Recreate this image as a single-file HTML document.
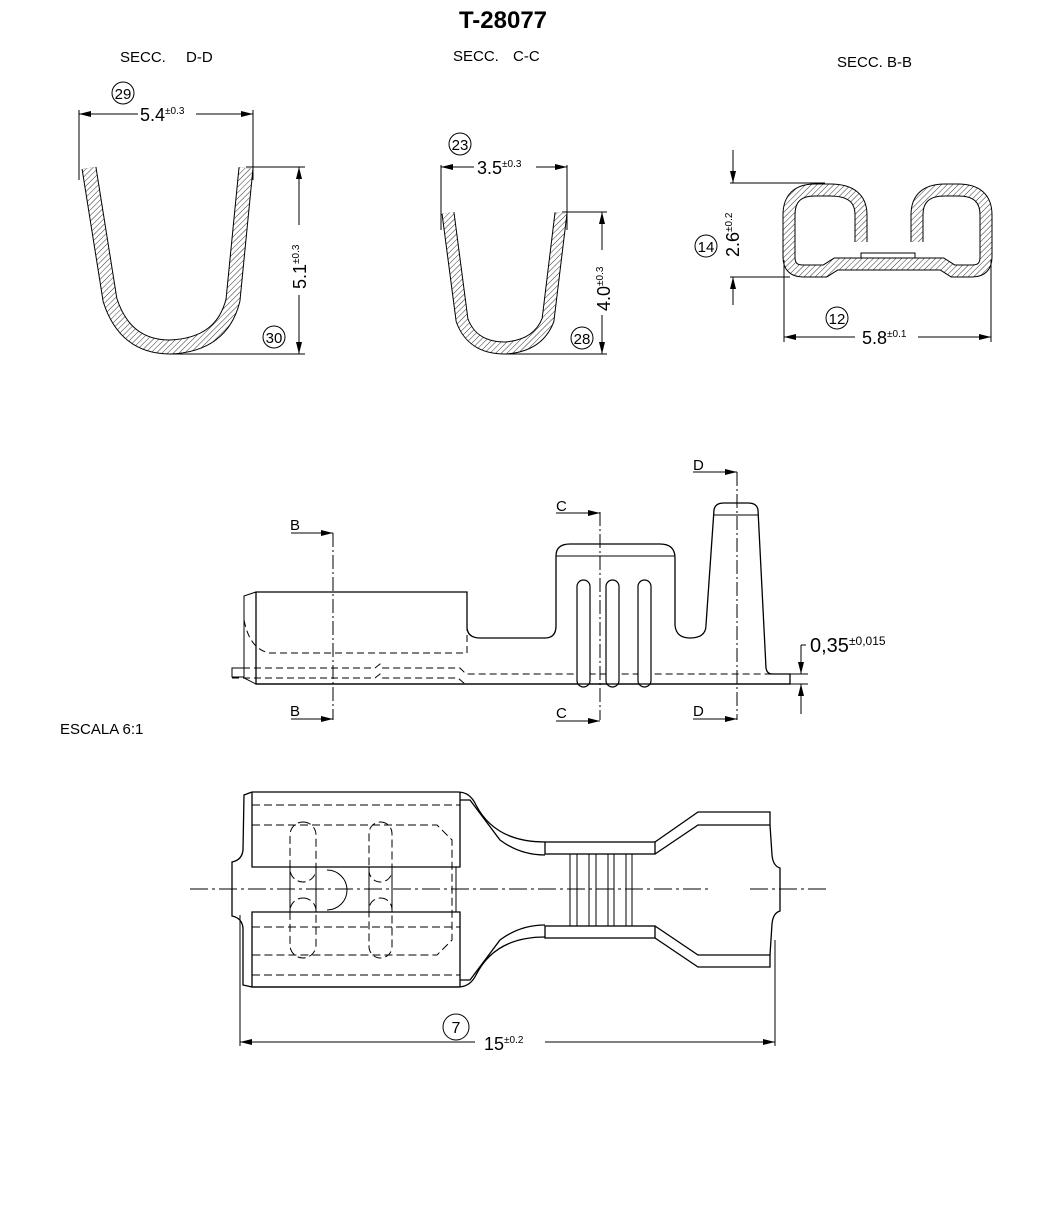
<!DOCTYPE html>
<html><head><meta charset="utf-8"><style>
html,body{margin:0;padding:0;background:#fff;}
svg{display:block;font-family:"Liberation Sans",sans-serif;}
</style></head><body>
<svg width="1053" height="1208" viewBox="0 0 1053 1208" xmlns="http://www.w3.org/2000/svg">
<defs>
<pattern id="h" width="4" height="4" patternUnits="userSpaceOnUse" patternTransform="rotate(45)">
<rect width="4" height="4" fill="#fff"/><line x1="0" y1="0" x2="0" y2="4" stroke="#333" stroke-width="1"/>
</pattern>
<marker id="a" markerWidth="12" markerHeight="6" refX="12" refY="3" orient="auto" markerUnits="userSpaceOnUse">
<path d="M0,0 L12,3 L0,6 Z" fill="#000"/></marker>
</defs>
<g fill="none" stroke="#000" stroke-width="1">
<text x="503" y="28" font-size="24" font-weight="bold" text-anchor="middle" fill="#000" stroke="none">T-28077</text>
<g fill="#000" stroke="none" font-size="15">
<text x="120" y="62">SECC.</text><text x="186" y="62">D-D</text>
<text x="453" y="61">SECC.</text><text x="513" y="61">C-C</text>
<text x="837" y="67">SECC. B-B</text>
<text x="60" y="734">ESCALA 6:1</text>
</g>

<!-- D-D -->
<path d="M89,168 L110,300 Q125,347 170,347 Q222,345 233,300 L246,168" stroke="#000" stroke-width="15"/>
<path d="M89,168 L110,300 Q125,347 170,347 Q222,345 233,300 L246,168" stroke="url(#h)" stroke-width="13"/>
<line x1="79" y1="110" x2="79" y2="180"/><line x1="253" y1="110" x2="253" y2="180"/>
<path d="M138,114 L79,114" marker-end="url(#a)"/><path d="M196,114 L253,114" marker-end="url(#a)"/>
<text x="140" y="121" font-size="18" fill="#000" stroke="none">5.4<tspan font-size="10" dy="-7">±0.3</tspan></text>
<circle cx="123" cy="93" r="11"/><text x="123" y="99" font-size="15" text-anchor="middle" fill="#000" stroke="none">29</text>
<line x1="246" y1="167" x2="305" y2="167"/><line x1="170" y1="354" x2="305" y2="354"/>
<path d="M299,225 L299,167" marker-end="url(#a)"/><path d="M299,295 L299,354" marker-end="url(#a)"/>
<text transform="translate(306,289) rotate(-90)" font-size="18" fill="#000" stroke="none">5.1<tspan font-size="10" dy="-7">±0.3</tspan></text>
<circle cx="274" cy="337" r="11"/><text x="274" y="343" font-size="15" text-anchor="middle" fill="#000" stroke="none">30</text>

<!-- C-C -->
<path d="M448,213 L462,320 Q472,348 505,348 Q538,346 548,320 L561,213" stroke="#000" stroke-width="13"/>
<path d="M448,213 L462,320 Q472,348 505,348 Q538,346 548,320 L561,213" stroke="url(#h)" stroke-width="11"/>
<line x1="441" y1="165" x2="441" y2="230"/><line x1="567" y1="165" x2="567" y2="230"/>
<path d="M474,167 L441,167" marker-end="url(#a)"/><path d="M536,167 L567,167" marker-end="url(#a)"/>
<text x="477" y="174" font-size="18" fill="#000" stroke="none">3.5<tspan font-size="10" dy="-7">±0.3</tspan></text>
<circle cx="460" cy="144" r="11"/><text x="460" y="150" font-size="15" text-anchor="middle" fill="#000" stroke="none">23</text>
<line x1="562" y1="212" x2="607" y2="212"/><line x1="505" y1="354" x2="607" y2="354"/>
<path d="M602,250 L602,212" marker-end="url(#a)"/><path d="M602,315 L602,354" marker-end="url(#a)"/>
<text transform="translate(610,311) rotate(-90)" font-size="18" fill="#000" stroke="none">4.0<tspan font-size="10" dy="-7">±0.3</tspan></text>
<circle cx="582" cy="338" r="11"/><text x="582" y="344" font-size="15" text-anchor="middle" fill="#000" stroke="none">28</text>

<!-- B-B -->
<path d="M861,242 L861,215 Q861,190 830,190 L815,190 Q789,190 789,215 L789,257 Q789,271 803,271 L825,271 L836,264 L942,264 L953,271 L972,271 Q986,271 986,257 L986,215 Q986,190 958,190 L945,190 Q917,190 917,215 L917,242" stroke="#000" stroke-width="13"/>
<path d="M861,242 L861,215 Q861,190 830,190 L815,190 Q789,190 789,215 L789,257 Q789,271 803,271 L825,271 L836,264 L942,264 L953,271 L972,271 Q986,271 986,257 L986,215 Q986,190 958,190 L945,190 Q917,190 917,215 L917,242" stroke="url(#h)" stroke-width="11"/>
<rect x="861" y="253" width="54" height="5" fill="#fff"/>
<line x1="730" y1="183" x2="825" y2="183"/><line x1="730" y1="277" x2="790" y2="277"/>
<path d="M733,150 L733,183" marker-end="url(#a)"/><path d="M733,305 L733,277" marker-end="url(#a)"/>
<text transform="translate(739,257) rotate(-90)" font-size="18" fill="#000" stroke="none">2.6<tspan font-size="10" dy="-7">±0.2</tspan></text>
<circle cx="706" cy="246" r="11"/><text x="706" y="252" font-size="15" text-anchor="middle" fill="#000" stroke="none">14</text>
<line x1="784" y1="260" x2="784" y2="342"/><line x1="991" y1="260" x2="991" y2="342"/>
<path d="M855,337 L784,337" marker-end="url(#a)"/><path d="M918,337 L991,337" marker-end="url(#a)"/>
<text x="862" y="344" font-size="18" fill="#000" stroke="none">5.8<tspan font-size="10" dy="-7">±0.1</tspan></text>
<circle cx="837" cy="318" r="11"/><text x="837" y="324" font-size="15" text-anchor="middle" fill="#000" stroke="none">12</text>

<!-- side view -->
<path d="M256,684 L256,592 L467,592 L467,628 Q468,638 480,638 L545,638 Q556,638 556,626 L556,556 Q556,544 570,544 L660,544 Q675,544 675,558 L675,625 Q676,638 690,638 Q706,638 706,625 L714,510 Q715,503 724,503 L748,503 Q757,503 758,510 L766,668 Q767,674 772,674 L790,674 L790,684 Z" stroke-width="1.3"/>
<path d="M256,592 L244,596 L244,678 L256,684"/>
<rect x="232" y="668" width="12" height="9"/>
<line x1="556" y1="556" x2="675" y2="556"/><line x1="714" y1="515" x2="758" y2="515"/>
<g stroke-dasharray="7,4">
<path d="M244,620 Q250,650 270,653 L467,653 L467,592"/>
<path d="M232,668 L375,668 L380,664 L382,668 L460,668 L466,674 L790,674"/>
<path d="M232,678 L375,678 L380,674 L382,678 L458,678 L465,684"/>
</g>
<g fill="#fff" stroke-width="1.2">
<rect x="577" y="580" width="13" height="107" rx="6.5"/><rect x="606" y="580" width="13" height="107" rx="6.5"/><rect x="638" y="580" width="13" height="107" rx="6.5"/>
</g>
<line x1="256" y1="684" x2="790" y2="684" stroke-width="1.3"/>
<g stroke-dasharray="14,3,2,3">
<line x1="333" y1="533" x2="333" y2="720"/><line x1="600" y1="512" x2="600" y2="720"/><line x1="737" y1="472" x2="737" y2="720"/>
</g>
<path d="M291,533 L333,533" marker-end="url(#a)"/><path d="M291,719 L333,719" marker-end="url(#a)"/>
<path d="M556,513 L600,513" marker-end="url(#a)"/><path d="M556,721 L600,721" marker-end="url(#a)"/>
<path d="M693,472 L737,472" marker-end="url(#a)"/><path d="M693,719 L737,719" marker-end="url(#a)"/>
<g fill="#000" stroke="none" font-size="15">
<text x="290" y="530">B</text><text x="290" y="716">B</text><text x="556" y="511">C</text><text x="556" y="718">C</text><text x="693" y="470">D</text><text x="693" y="716">D</text>
</g>
<line x1="790" y1="674" x2="808" y2="674"/><line x1="790" y1="684" x2="808" y2="684"/>
<path d="M801,645 L801,674" marker-end="url(#a)"/><path d="M801,714 L801,684" marker-end="url(#a)"/>
<path d="M801,645 L806,645"/>
<text x="810" y="652" font-size="20" fill="#000" stroke="none">0,35<tspan font-size="12" dy="-7">±0,015</tspan></text>

<!-- top view -->
<g stroke-width="1.3">
<path d="M252,792 L458,792 Q470,792 476,805 Q495,842 545,842"/>
<path d="M252,987 L458,987 Q470,987 476,975 Q495,937 545,937"/>
<path d="M252,792 L252,867 L460,867 L460,792"/>
<path d="M252,912 L252,987 L460,987 L460,912 Z"/>
<path d="M252,792 L244,795 L243,850 Q242,860 232,862 L232,916 Q242,918 243,928 L243,985 L252,987"/>
<path d="M460,800 L470,800 Q485,820 500,840 Q520,855 545,855"/>
<path d="M460,980 L470,980 Q485,960 500,940 Q520,925 545,925"/>
<rect x="545" y="842" width="110" height="12"/><rect x="545" y="926" width="110" height="12"/>
<path d="M655,842 L698,812 L770,812 L770,825 L698,825 L655,854"/>
<path d="M655,938 L698,967 L770,967 L770,955 L698,955 L655,926"/>
<path d="M770,825 L772,855 Q773,866 780,868 L780,911 Q773,913 772,924 L770,955"/>
</g>
<g>
<line x1="570" y1="854" x2="570" y2="926"/><line x1="577" y1="854" x2="577" y2="926"/><line x1="589" y1="854" x2="589" y2="926"/><line x1="596" y1="854" x2="596" y2="926"/><line x1="608" y1="854" x2="608" y2="926"/><line x1="614" y1="854" x2="614" y2="926"/><line x1="626" y1="854" x2="626" y2="926"/><line x1="632" y1="854" x2="632" y2="926"/>
<line x1="290" y1="867" x2="290" y2="912"/><line x1="316" y1="867" x2="316" y2="912"/><line x1="369" y1="867" x2="369" y2="912"/><line x1="392" y1="867" x2="392" y2="912"/><line x1="456" y1="867" x2="456" y2="912"/>
<path d="M327,870 A19,19 0 0 1 327,910"/>
</g>
<g stroke-dasharray="8,4">
<path d="M252,805 L460,805 M252,825 L437,825 L452,840 L452,940 L437,955 L252,955 M252,867 L460,867 M252,927 L460,927 M252,975 L460,975"/>
<rect x="290" y="822" width="26" height="60" rx="13"/><rect x="369" y="822" width="23" height="60" rx="11.5"/>
<rect x="290" y="898" width="26" height="60" rx="13"/><rect x="369" y="898" width="23" height="60" rx="11.5"/>
</g>
<path d="M190,889 L710,889 M750,889 L826,889" stroke-dasharray="18,4,3,4"/>
<line x1="240" y1="915" x2="240" y2="1046"/><line x1="775" y1="940" x2="775" y2="1046"/>
<path d="M475,1042 L240,1042" marker-end="url(#a)"/><path d="M545,1042 L775,1042" marker-end="url(#a)"/>
<text x="484" y="1050" font-size="18" fill="#000" stroke="none">15<tspan font-size="10" dy="-7">±0.2</tspan></text>
<circle cx="456" cy="1027" r="13"/><text x="456" y="1033" font-size="16" text-anchor="middle" fill="#000" stroke="none">7</text>
</g>
</svg>
</body></html>
